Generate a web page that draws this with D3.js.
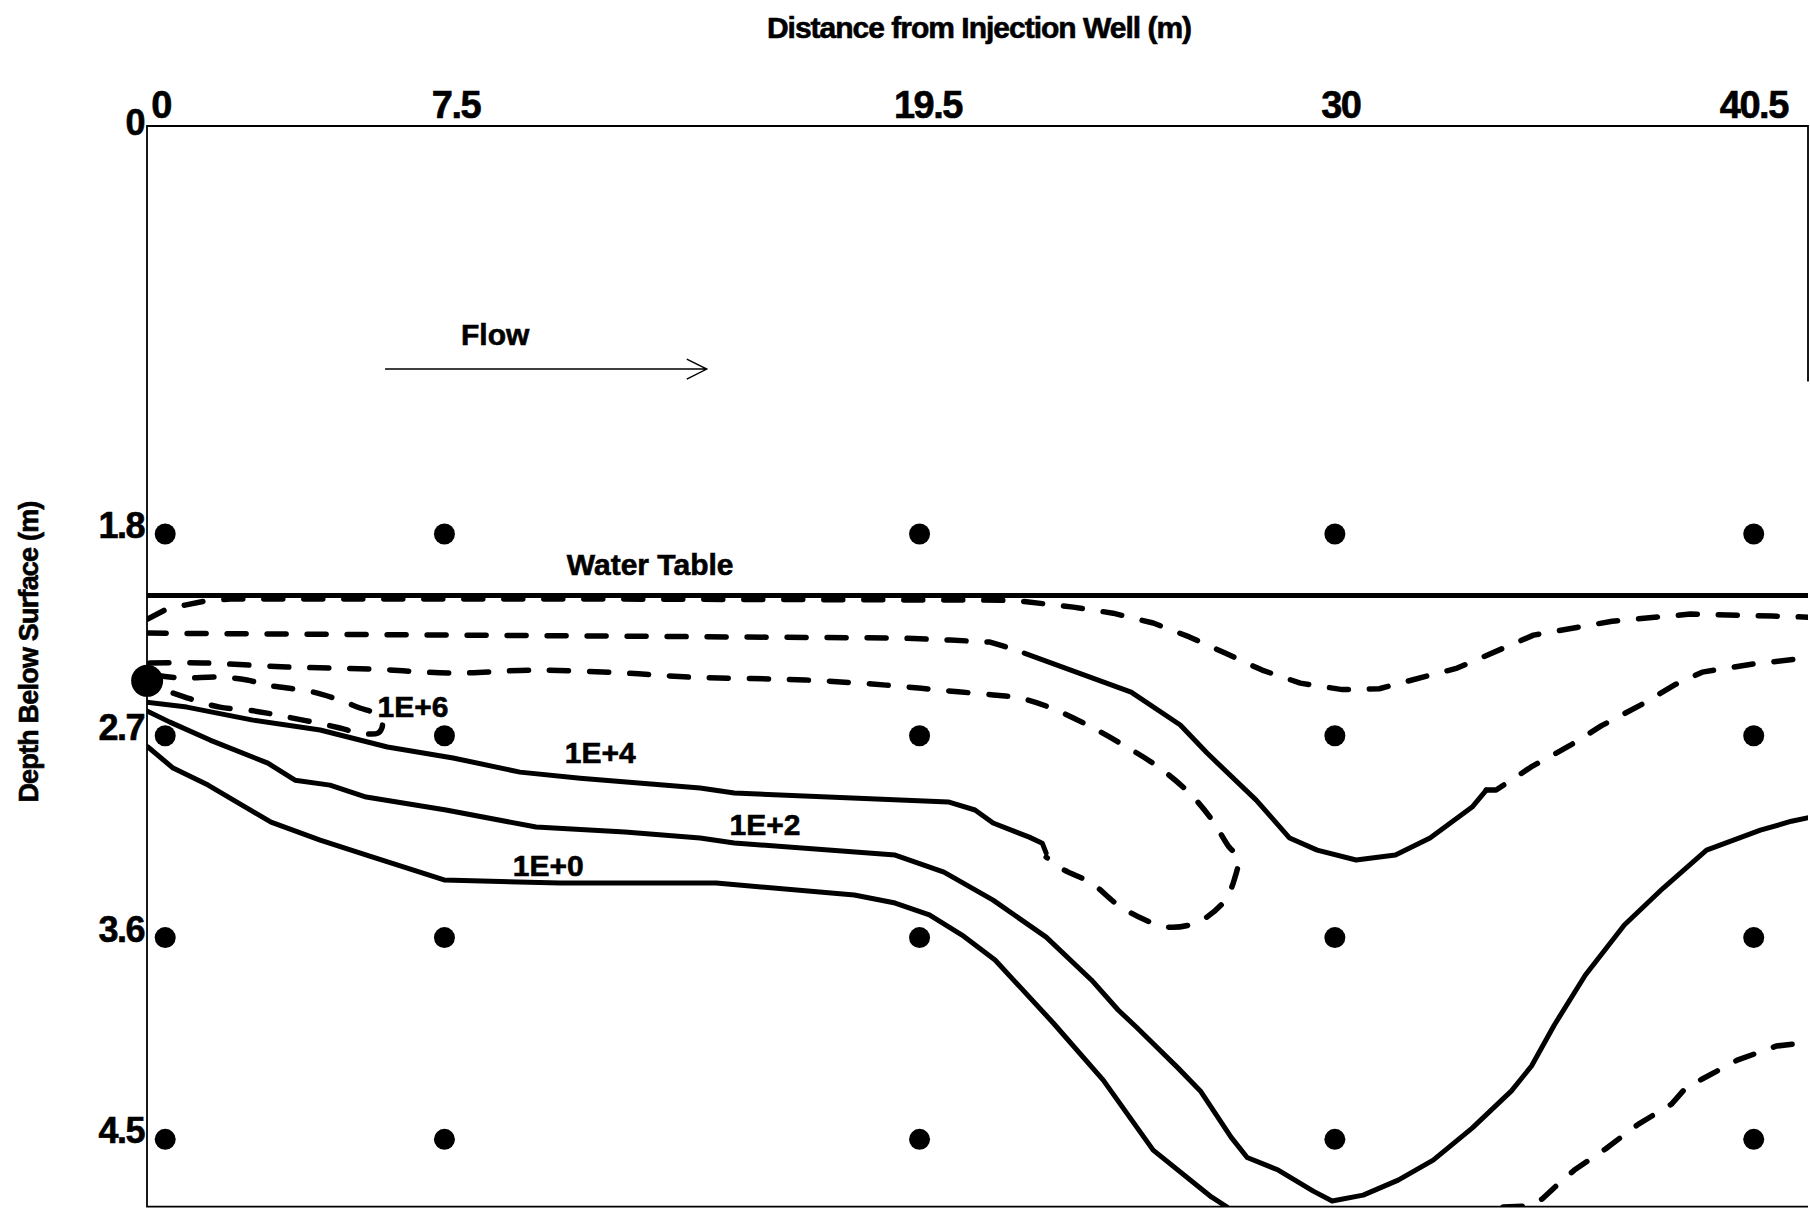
<!DOCTYPE html>
<html lang="en">
<head>
<meta charset="UTF-8">
<title>Depth profile</title>
<script src="https://cdn.jsdelivr.net/npm/d3@7"></script>
<style>
    body {
        margin: 0;
        background-color: white;
    }
    svg {
        display: block;
    }
    text {
        font-family: "Liberation Sans", Arial, sans-serif;
        font-weight: bold;
        fill: black;
        stroke: black;
        stroke-width: 0.6px;
    }
    .axis path,
    .axis line {
        display: none;
    }
    .axis.top text {
        font-size: 38px;
        letter-spacing: -1.5px;
    }
    .axis.left text {
        font-size: 36px;
        letter-spacing: -1.5px;
    }
    .title {
        font-size: 30px;
        letter-spacing: -1px;
    }
    .ytitle {
        font-size: 27px;
        letter-spacing: -0.8px;
    }
    .note {
        font-size: 30px;
    }
    .frame {
        stroke: black;
        stroke-width: 1.8;
        fill: none;
    }
    .solid {
        fill: none;
        stroke: black;
        stroke-width: 5;
        stroke-linejoin: round;
        stroke-linecap: round;
    }
    .dash {
        fill: none;
        stroke: black;
        stroke-width: 5.5;
        stroke-dasharray: 19 21;
        stroke-linecap: round;
        stroke-linejoin: round;
    }
</style>
</head>
<body>
<svg width="1810" height="1209"></svg>
<script>
// axis ticks (m)
var distTicks = [0, 7.5, 19.5, 30, 40.5];
var depthTicks = [0, 1.8, 2.7, 3.6, 4.5];

// sampling points as drawn
var wellX = [0.12, 7.22, 19.3, 29.86, 40.51];
var wellDepth = [1.8, 2.7, 3.6, 4.5];
var injectionPoint = [-0.34, 2.455];
var waterTableDepth = 2.074;

// contour lines, [distance m, depth m]
var dashTop = [[-0.34, 2.18], [0.11, 2.139], [0.62, 2.117], [1.13, 2.099], [1.77, 2.09], [11.19, 2.09],
    [21.35, 2.095], [21.96, 2.101], [23.21, 2.126], [24.22, 2.153], [25.24, 2.197], [26.16, 2.259],
    [27.07, 2.331], [28.01, 2.407], [28.98, 2.465], [30.05, 2.494], [30.99, 2.49], [32.97, 2.398],
    [34.91, 2.251], [36.91, 2.189], [38.9, 2.157], [40.98, 2.166], [41.95, 2.171]];

var dashSecond = [[-0.34, 2.242], [11.19, 2.255], [18.81, 2.264], [20.08, 2.273], [21.09, 2.282],
    [21.6, 2.309], [21.96, 2.331]];
var solidSecond = [[21.96, 2.331], [24.68, 2.505], [25.93, 2.652], [26.61, 2.777], [27.86, 2.987],
    [28.71, 3.156], [29.41, 3.21], [30.4, 3.254], [31.4, 3.232], [32.28, 3.156], [33.35, 3.018],
    [33.71, 2.942]];
var dashSecondRight = [[33.71, 2.942], [33.96, 2.942], [34.85, 2.839], [35.85, 2.742], [36.63, 2.656],
    [37.63, 2.563], [38.52, 2.471], [39.2, 2.416], [40.49, 2.38], [41.95, 2.351]];

var dashLoop = [[-0.27, 2.375], [1.08, 2.375], [3.22, 2.393], [5.33, 2.402], [7.44, 2.42], [9.55, 2.407],
    [11.81, 2.42], [13.44, 2.438], [16.39, 2.451], [18.45, 2.474], [19.8, 2.496], [21.17, 2.518],
    [21.86, 2.532], [22.65, 2.576], [23.67, 2.661], [24.58, 2.751], [25.37, 2.839], [26.16, 2.955],
    [26.74, 3.076], [27.17, 3.196], [27.4, 3.241], [27.3, 3.343], [27.07, 3.433], [26.61, 3.508],
    [26.16, 3.544], [25.6, 3.553], [25.04, 3.522], [24.35, 3.455], [23.67, 3.357], [22.98, 3.299],
    [22.52, 3.241]];

var loop1e6 = [[-0.14, 2.429], [0.5, 2.442], [1.51, 2.438], [2.2, 2.451], [2.71, 2.474], [3.22, 2.487],
    [3.88, 2.505], [4.56, 2.541], [5.07, 2.576], [5.45, 2.599], [5.63, 2.63], [5.63, 2.665],
    [5.53, 2.688], [5.07, 2.688], [4.56, 2.665], [3.88, 2.639], [3.22, 2.616], [2.71, 2.599],
    [2.2, 2.585], [1.51, 2.572], [1.0, 2.549], [0.62, 2.527], [0.24, 2.505], [-0.06, 2.487]];

var line1e4 = [[-0.39, 2.549], [0.67, 2.572], [2.35, 2.63], [4.06, 2.674], [5.77, 2.75], [7.44, 2.799],
    [9.14, 2.862], [10.67, 2.889], [13.72, 2.933], [14.59, 2.955], [20.03, 2.995], [20.71, 3.031],
    [21.17, 3.089], [22.09, 3.152], [22.42, 3.179], [22.52, 3.223]];

var line1e2 = [[-0.39, 2.585], [0.24, 2.639], [1.26, 2.719], [2.73, 2.822], [3.42, 2.898], [4.31, 2.92],
    [5.23, 2.973], [7.26, 3.031], [9.55, 3.107], [11.81, 3.129], [13.72, 3.156], [14.59, 3.178],
    [18.68, 3.232], [19.92, 3.308], [21.17, 3.433], [22.52, 3.598], [23.67, 3.789], [24.35, 3.923],
    [24.81, 3.999], [25.85, 4.178], [26.44, 4.284], [27.22, 4.49], [27.63, 4.581], [28.42, 4.637],
    [29.31, 4.731], [29.79, 4.775], [30.58, 4.749], [31.47, 4.682], [32.36, 4.593], [33.35, 4.45],
    [34.35, 4.284], [34.86, 4.173], [35.44, 3.99], [36.23, 3.767], [37.22, 3.544], [38.21, 3.379],
    [39.31, 3.21], [40.68, 3.121], [41.47, 3.081], [41.95, 3.063]];

var line1e0 = [[-0.32, 2.75], [0.32, 2.844], [1.21, 2.92], [2.81, 3.085], [4.06, 3.165], [5.3, 3.236],
    [7.21, 3.343], [10.16, 3.357], [14.13, 3.357], [17.64, 3.41], [18.68, 3.446], [19.55, 3.499],
    [20.38, 3.589], [21.22, 3.7], [22.7, 3.981], [23.97, 4.236], [25.24, 4.548], [26.72, 4.757],
    [27.12, 4.802]];

var dashBottom = [[34.14, 4.802], [34.75, 4.798], [35.13, 4.766], [35.54, 4.699], [35.95, 4.637],
    [36.74, 4.543], [37.58, 4.432], [38.42, 4.343], [38.8, 4.267], [39.2, 4.231], [40.09, 4.147],
    [41.08, 4.084], [41.95, 4.066]];

// contour labels
var labelText = ["1E+6", "1E+4", "1E+2", "1E+0"];
var labelX = [6.42, 11.18, 15.37, 9.86];
var labelDepth = [2.616, 2.822, 3.141, 3.325];

// flow arrow (m)
var flowFrom = [5.71, 1.064];
var flowTo = [13.89, 1.064];

var svg = d3.select("svg");

var x = d3.scaleLinear()
        .domain([-0.343, 41.89])
        .range([147, 1808]);
var y = d3.scaleLinear()
        .domain([-0.02, 4.8])
        .range([126, 1206.6]);

var line = d3.line()
        .x(function (d) { return x(d[0]); })
        .y(function (d) { return y(d[1]); });

svg.append("clipPath")
        .attr("id", "plot")
        .append("rect")
        .attr("x", x(-0.343))
        .attr("y", y(-0.02))
        .attr("width", x(41.89) - x(-0.343))
        .attr("height", y(4.8) - y(-0.02));

// frame
var x0 = x(-0.343), x1 = x(41.89), y0 = y(-0.02), y1 = y(4.8);
svg.append("path")
        .attr("class", "frame")
        .attr("d", "M" + x1 + "," + y(1.12) + "V" + y0 + "H" + x0 + "V" + y1 + "H" + x1);

// axes
svg.append("g")
        .attr("class", "axis top")
        .attr("transform", "translate(0," + y0 + ")")
        .call(d3.axisTop(x).tickValues(distTicks).tickSize(0).tickPadding(8)
                .tickFormat(function (d) { return d; }));

svg.append("g")
        .attr("class", "axis left")
        .attr("transform", "translate(" + x0 + ",0)")
        .call(d3.axisLeft(y).tickValues(depthTicks).tickSize(0).tickPadding(3)
                .tickFormat(function (d) { return d; }))
        .selectAll("text")
        .attr("dy", "0.1em");

svg.append("text")
        .attr("class", "title")
        .attr("x", 979)
        .attr("y", 38)
        .attr("text-anchor", "middle")
        .text("Distance from Injection Well (m)");

svg.append("text")
        .attr("class", "ytitle")
        .attr("transform", "translate(38,652) rotate(-90)")
        .attr("text-anchor", "middle")
        .text("Depth Below Surface (m)");

// contours
var g = svg.append("g").attr("clip-path", "url(#plot)");

g.append("line")
        .attr("class", "solid")
        .attr("stroke-width", 5.5)
        .attr("x1", x0).attr("x2", x1)
        .attr("y1", y(waterTableDepth)).attr("y2", y(waterTableDepth));

var dashed = [dashTop, dashSecond, dashSecondRight, dashBottom];
var solids = [solidSecond, line1e4, line1e2, line1e0];

g.selectAll(".dash.open")
        .data(dashed)
        .enter()
        .append("path")
        .attr("class", "dash open")
        .attr("d", line);

g.selectAll(".dash.loop")
        .data([dashLoop, loop1e6])
        .enter()
        .append("path")
        .attr("class", "dash loop")
        .attr("d", line.curve(d3.curveCatmullRom.alpha(0.5)));
line.curve(d3.curveLinear);

g.selectAll(".solid.c")
        .data(solids)
        .enter()
        .append("path")
        .attr("class", "solid c")
        .attr("d", line);

// sampling points
var wells = [];
wellX.forEach(function (wx) {
    wellDepth.forEach(function (wd) {
        wells.push([wx, wd]);
    });
});
svg.selectAll(".well")
        .data(wells)
        .enter()
        .append("circle")
        .attr("class", "well")
        .attr("cx", function (d) { return x(d[0]); })
        .attr("cy", function (d) { return y(d[1]); })
        .attr("r", 10.5)
        .attr("fill", "black");

svg.append("circle")
        .attr("cx", x(injectionPoint[0]))
        .attr("cy", y(injectionPoint[1]))
        .attr("r", 16)
        .attr("fill", "black");

// labels
svg.selectAll(".clabel")
        .data(labelText)
        .enter()
        .append("text")
        .attr("class", "note clabel")
        .attr("text-anchor", "middle")
        .attr("x", function (d, i) { return x(labelX[i]); })
        .attr("y", function (d, i) { return y(labelDepth[i]); })
        .text(function (d) { return d; });

svg.append("text")
        .attr("class", "note")
        .attr("text-anchor", "middle")
        .attr("x", x(12.45))
        .attr("y", y(1.983))
        .text("Water Table");

svg.append("text")
        .attr("class", "note")
        .attr("text-anchor", "middle")
        .attr("x", x(8.51))
        .attr("y", y(0.957))
        .text("Flow");

var ax = x(flowTo[0]), ay = y(flowTo[1]);
svg.append("path")
        .attr("fill", "none")
        .attr("stroke", "black")
        .attr("stroke-width", 1.4)
        .attr("d", "M" + x(flowFrom[0]) + "," + y(flowFrom[1]) + "H" + ax
                + "M" + (ax - 20) + "," + (ay - 10) + "L" + ax + "," + ay + "L" + (ax - 20) + "," + (ay + 10));
</script>
</body>
</html>
